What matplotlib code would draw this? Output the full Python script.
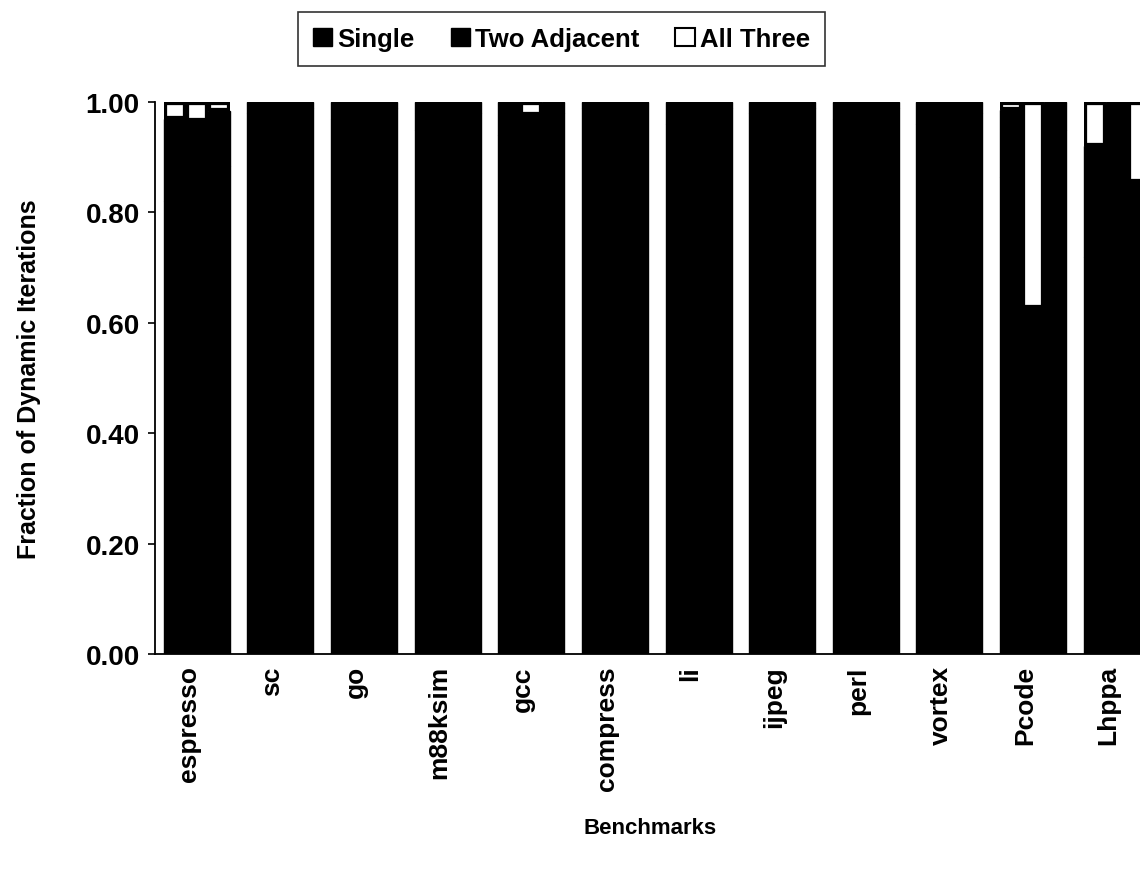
import numpy as np
import matplotlib.pyplot as plt
import matplotlib.transforms as mtransforms

plt.rcParams['font.family'] = ['Liberation Sans', 'DejaVu Sans']
plt.rcParams['font.weight'] = 'bold'

benchmarks = ['espresso', 'sc', 'go', 'm88ksim', 'gcc', 'compress',
              'li', 'ijpeg', 'perl', 'vortex', 'Pcode', 'Lhppa']

# three configurations per benchmark, fractions of dynamic iterations
all_three = [
    [0.030, 0.035, 0.016],
    [0.000, 0.000, 0.000],
    [0.000, 0.000, 0.000],
    [0.000, 0.000, 0.000],
    [0.000, 0.024, 0.000],
    [0.000, 0.000, 0.000],
    [0.000, 0.000, 0.000],
    [0.000, 0.000, 0.000],
    [0.000, 0.000, 0.000],
    [0.000, 0.000, 0.000],
    [0.015, 0.373, 0.000],
    [0.080, 0.000, 0.145],
]
two_adjacent = [
    [0.150, 0.120, 0.100],
    [0.020, 0.010, 0.010],
    [0.030, 0.020, 0.010],
    [0.050, 0.030, 0.020],
    [0.060, 0.040, 0.020],
    [0.010, 0.010, 0.000],
    [0.040, 0.020, 0.010],
    [0.020, 0.010, 0.010],
    [0.030, 0.020, 0.010],
    [0.040, 0.030, 0.020],
    [0.120, 0.250, 0.050],
    [0.200, 0.300, 0.150],
]

all_three = np.array(all_three)
two_adjacent = np.array(two_adjacent)
single = 1.0 - all_three - two_adjacent

fig = plt.figure(figsize=(11.4, 8.7), dpi=100)
ax = fig.add_axes([0.136, 0.247, 0.864, 0.6346])

x = np.arange(len(benchmarks))
w = 0.263
for k, off in enumerate([-w, 0, w]):
    xs = x + off
    ax.bar(xs, single[:, k], w, color='black', edgecolor='black', lw=1)
    ax.bar(xs, two_adjacent[:, k], w, bottom=single[:, k],
           color='black', edgecolor='black', lw=1)
    tops = ax.bar(xs, all_three[:, k], w,
                  bottom=single[:, k] + two_adjacent[:, k],
                  color='white', edgecolor='black', lw=4.5, zorder=3)
    # keep the heavy outline inside each segment
    for p in tops:
        p.set_clip_path(p)

ax.set_xlim(-0.5, 11.28)
ax.set_ylim(0, 1.0)
ax.set_yticks(np.arange(0, 1.01, 0.2))
ax.set_yticklabels(['%.2f' % v for v in np.arange(0, 1.01, 0.2)], fontsize=20)
ax.set_xticks(x)
ax.set_xticklabels(benchmarks, rotation=90, fontsize=19)
ax.tick_params(axis='x', length=0, pad=8)
ax.tick_params(axis='y', length=5, width=1.2, pad=6)

# category labels sit a little left of the group centre
shift = mtransforms.ScaledTranslation(-0.08, 0, fig.dpi_scale_trans)
for lab in ax.get_xticklabels():
    lab.set_transform(lab.get_transform() + shift)

for s in ['top', 'right']:
    ax.spines[s].set_visible(False)
for s in ['left', 'bottom']:
    ax.spines[s].set_linewidth(1.3)

ax.set_ylabel('Fraction of Dynamic Iterations', fontsize=18,
              fontweight='bold', labelpad=32)
fig.text(0.57, 0.048, 'Benchmarks', ha='center', va='center', fontsize=16)

handles = [
    plt.Rectangle((0, 0), 1, 1, fc='black', ec='black'),
    plt.Rectangle((0, 0), 1, 1, fc='black', ec='black'),
    plt.Rectangle((0, 0), 1, 1, fc='white', ec='black', lw=1.5),
]
leg = fig.legend(handles, ['Single', 'Two Adjacent', 'All Three'],
                 loc='center', bbox_to_anchor=(0.4925, 0.954), ncol=3,
                 fontsize=18.5, frameon=True, fancybox=False, shadow=False,
                 handlelength=0.75, handleheight=0.75, handletextpad=0.2,
                 columnspacing=1.4, borderpad=0.6)
leg.get_frame().set_edgecolor('black')
leg.get_frame().set_linewidth(1.2)

fig.savefig('out.png', dpi=100)
